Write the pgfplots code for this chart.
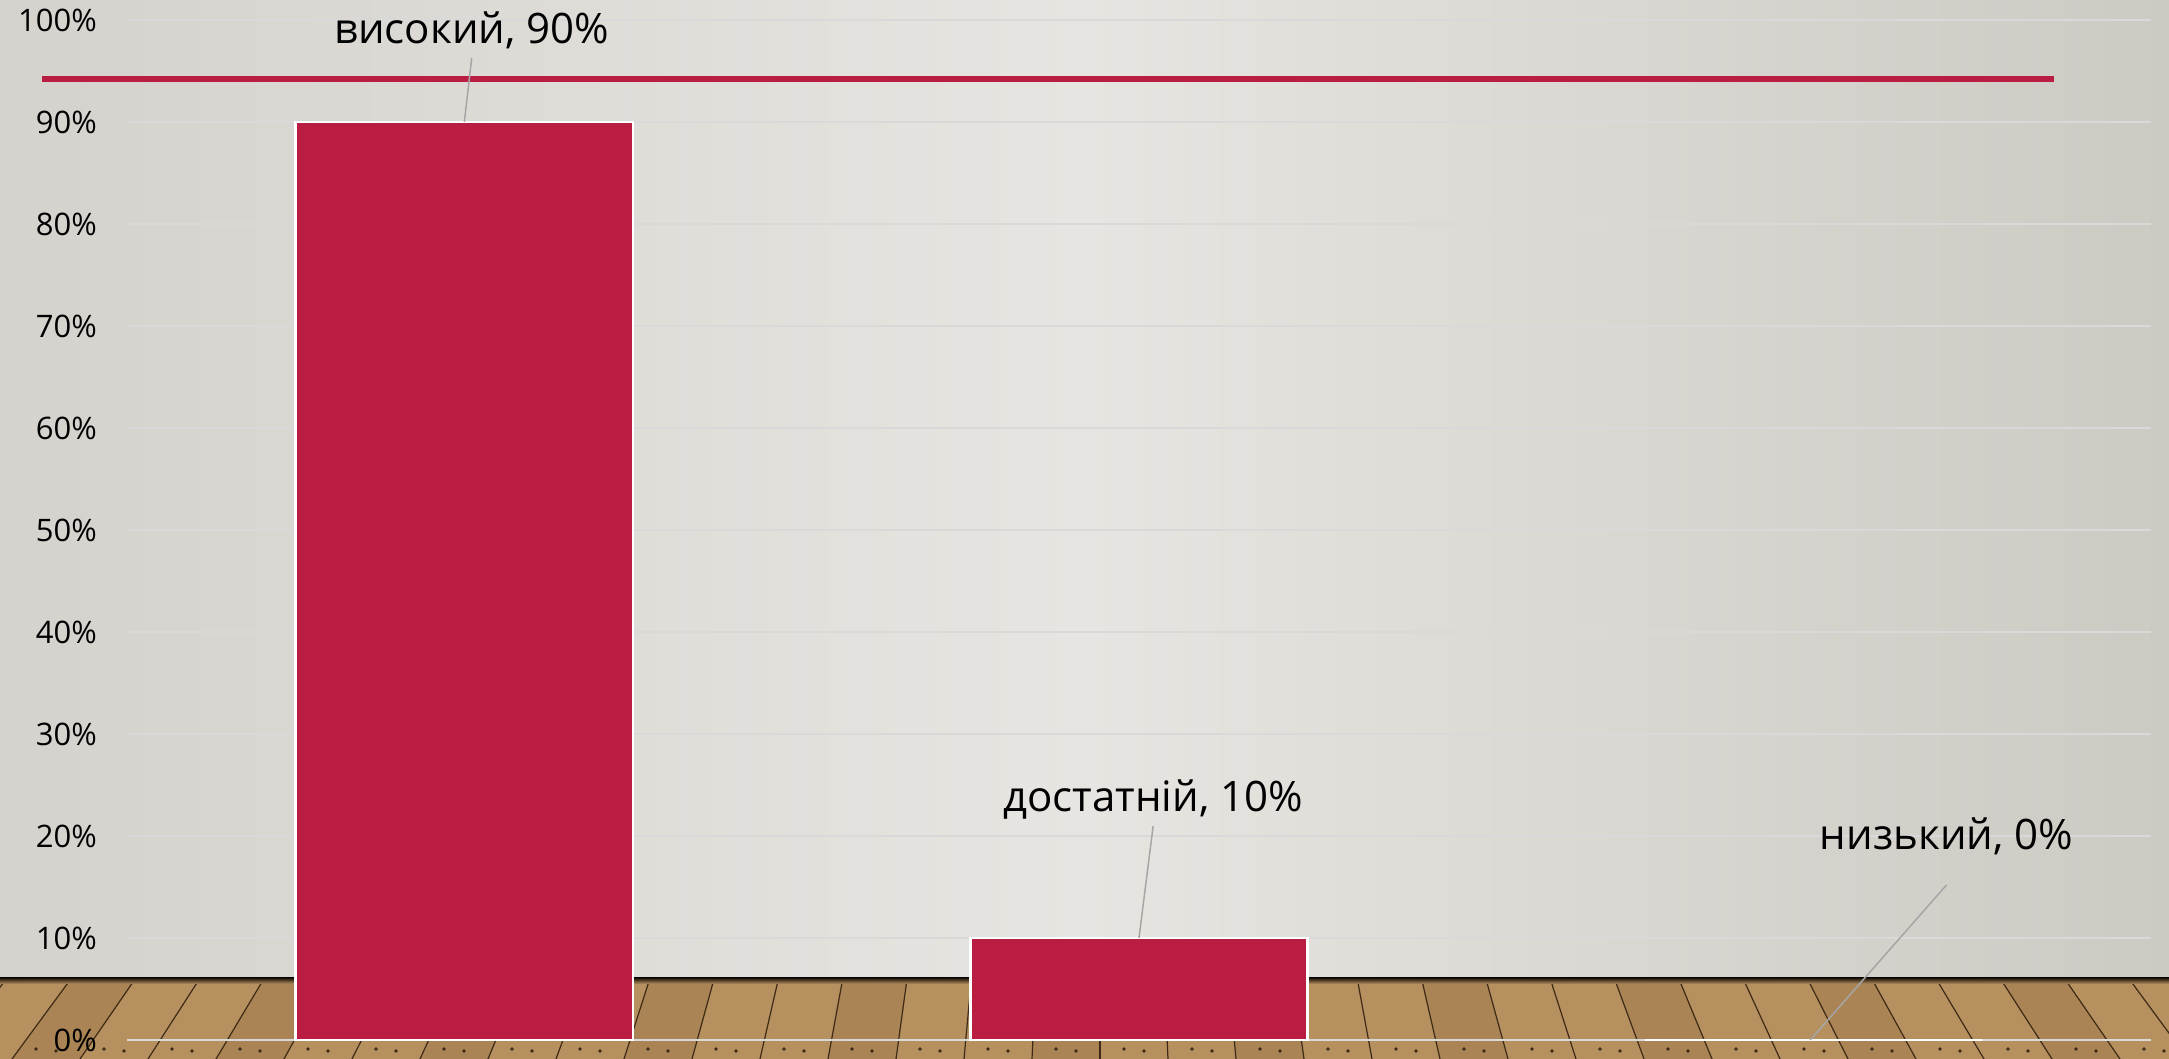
\documentclass[border=0pt]{standalone}
\usepackage{pgfplots}
\pgfplotsset{compat=1.18}
\usepackage{fontspec}
\setmainfont{Open Sans}
\definecolor{barred}{RGB}{185,30,66}
\definecolor{gridc}{RGB}{217,217,218}
\definecolor{wallL}{RGB}{213,210,205}
\definecolor{wallM}{RGB}{231,229,225}
\definecolor{wallR}{RGB}{205,201,195}
\definecolor{woodA}{RGB}{182,144,94}
\definecolor{woodB}{RGB}{170,132,84}
\definecolor{woodD}{RGB}{62,42,22}
\definecolor{leader}{RGB}{166,166,166}
\begin{document}
\begin{tikzpicture}
\path[use as bounding box] (0,0) rectangle (1084.5pt,529.5pt);
\shade[left color=wallL, right color=wallR, middle color=wallM] (0,40.5pt) rectangle (1084.5pt,529.5pt);
\fill[woodA] (0,0) rectangle (1084.5pt,40.5pt);
\begin{scope}
\clip (0,0) rectangle (1084.5pt,40.5pt);
\foreach \i in {-18,...,18} {
  \pgfmathsetmacro{\xb}{550+34*\i}
  \pgfmathsetmacro{\xt}{550+34*\i*0.9453}
  \pgfmathsetmacro{\xbb}{550+34*(\i+1)}
  \pgfmathsetmacro{\xtt}{550+34*(\i+1)*0.9453}
  \pgfmathsetmacro{\xda}{\xb+12}
  \pgfmathsetmacro{\xdb}{\xb+22}
  \pgfmathparse{int(mod(\i+40,3))}
  \ifnum\pgfmathresult=0
    \fill[woodB] (\xb pt,0) -- (\xt pt,40.5pt) -- (\xtt pt,40.5pt) -- (\xbb pt,0) -- cycle;
  \fi
  \draw[woodD, line width=0.6pt] (\xb pt,0) -- (\xt pt,40.5pt);
  \fill[woodD] (\xda pt,5pt) circle (0.9pt);
  \fill[woodD] (\xdb pt,4pt) circle (0.9pt);
}
\end{scope}
\shade[top color=black!85!brown, bottom color=woodA] (0,37.5pt) rectangle (1084.5pt,40.5pt);
\begin{axis}[
  at={(63.5pt,9.5pt)}, anchor=south west,
  width=1012pt, height=510pt, scale only axis,
  xmin=-0.5, xmax=2.5, ymin=0, ymax=100,
  axis line style={draw=none},
  major tick style={draw=none},
  xtick=\empty,
  ytick={0,10,...,100},
  ymajorgrids, grid style={gridc, line width=1pt},
  yticklabel={\pgfmathprintnumber{\tick}\%},
  yticklabel style={font=\fontsize{15.5}{18}\selectfont, xshift=-11.5pt, text=black},
  /pgf/number format/assume math mode=true,
  clip=false,
]
\addplot[ybar, bar width=0.5, fill=barred, draw=white, line width=1.3pt] coordinates {(0,90) (1,10) (2,0)};
\addplot[barred, line width=3pt] coordinates {(-0.626,94.2) (2.356,94.2)};
\addplot[leader, line width=0.75pt] coordinates {(0.011,96.3) (0,90)};
\addplot[leader, line width=0.75pt] coordinates {(1.021,20.98) (1.0,10)};
\addplot[leader, line width=0.75pt] coordinates {(2.197,15.2) (1.995,0)};
\node[anchor=base, font=\fontsize{21}{25}\selectfont] at (axis cs:0.011,97.7) {високий, 90\%};
\node[anchor=base, font=\fontsize{21}{25}\selectfont] at (axis cs:1.021,22.45) {достатній, 10\%};
\node[anchor=base, font=\fontsize{21}{25}\selectfont] at (axis cs:2.197,18.7) {низький, 0\%};
\end{axis}
\end{tikzpicture}
\end{document}
